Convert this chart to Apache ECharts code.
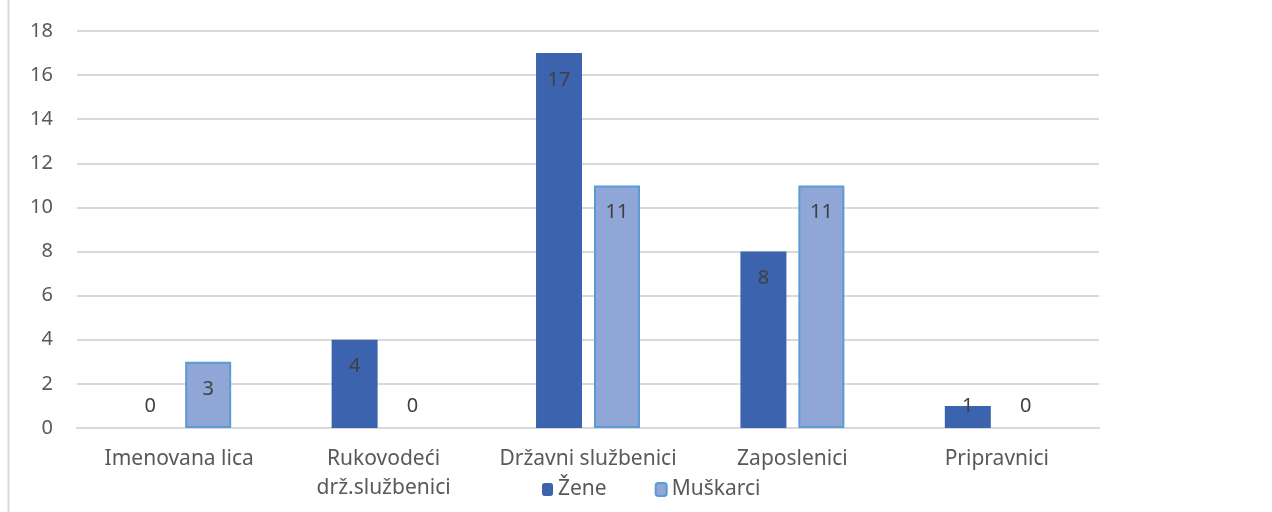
<!DOCTYPE html>
<html>
<head>
<meta charset="utf-8">
<script src="https://cdn.jsdelivr.net/npm/echarts@6/dist/echarts.min.js"></script>
<style>html,body{margin:0;padding:0;background:#fff;}#c{width:1272px;height:512px;}</style>
</head>
<body>
<div id="c"></div>
<script>
const categories = ['Imenovana lica', 'Rukovodeći\ndrž.službenici', 'Državni službenici', 'Zaposlenici', 'Pripravnici'];
const seriesNames = ['Žene', 'Muškarci'];
const zene = [0, 4, 17, 8, 1];
const muskarci = [3, 0, 11, 11, 0];
const yTicks = [0, 2, 4, 6, 8, 10, 12, 14, 16, 18];

const FONT = 'Noto Sans';
function mkData(arr) {
  return arr.map(v => {
    if (v === 0) return { value: v, itemStyle: { borderWidth: 0, borderColor: 'rgba(0,0,0,0)' }, label: { position: 'top', distance: 12 } };
    if (v <= 1) return { value: v, label: { position: 'top', distance: -10 } };
    return { value: v };
  });
}
const chart = echarts.init(document.getElementById('c'));
chart.setOption({
  animation: false,
  textStyle: { fontFamily: FONT },
  graphic: [{ type: 'line', shape: { x1: 8.5, y1: 0, x2: 8.5, y2: 512 }, style: { stroke: '#d9d9d9', lineWidth: 2 } }],
  legend: {
    data: seriesNames, left: 537, top: 474, itemWidth: 11, itemHeight: 13, itemGap: 48,
    textStyle: { fontSize: 21, color: '#595959', fontFamily: FONT }
  },
  grid: { left: 77, right: 173, top: 31, bottom: 84 },
  xAxis: {
    type: 'category', data: categories,
    axisLine: { lineStyle: { color: '#d9d9d9', width: 2 } },
    axisTick: { show: false },
    axisLabel: { fontSize: 21, color: '#595959', margin: 17, lineHeight: 29, fontFamily: FONT, interval: 0 }
  },
  yAxis: {
    type: 'value', min: 0, max: 18, interval: 2,
    axisLabel: { fontSize: 20, color: '#595959', margin: 24, fontFamily: FONT,
      formatter: v => yTicks.includes(v) ? String(v) : '' },
    splitLine: { lineStyle: { color: '#d9d9d9', width: 2 } },
    axisLine: { show: false }, axisTick: { show: false }
  },
  series: [
    { name: seriesNames[0], type: 'bar', data: mkData(zene), barWidth: 46, barGap: '26%',
      itemStyle: { color: '#3c63ad' },
      label: { show: true, position: 'insideTop', distance: 17, fontSize: 20, color: '#404040', fontFamily: FONT } },
    { name: seriesNames[1], type: 'bar', data: mkData(muskarci), barWidth: 46,
      itemStyle: { color: '#8fa6d6', borderColor: '#5b9bd5', borderWidth: 2 },
      label: { show: true, position: 'insideTop', distance: 17, fontSize: 20, color: '#404040', fontFamily: FONT } }
  ]
});
</script>
</body>
</html>
